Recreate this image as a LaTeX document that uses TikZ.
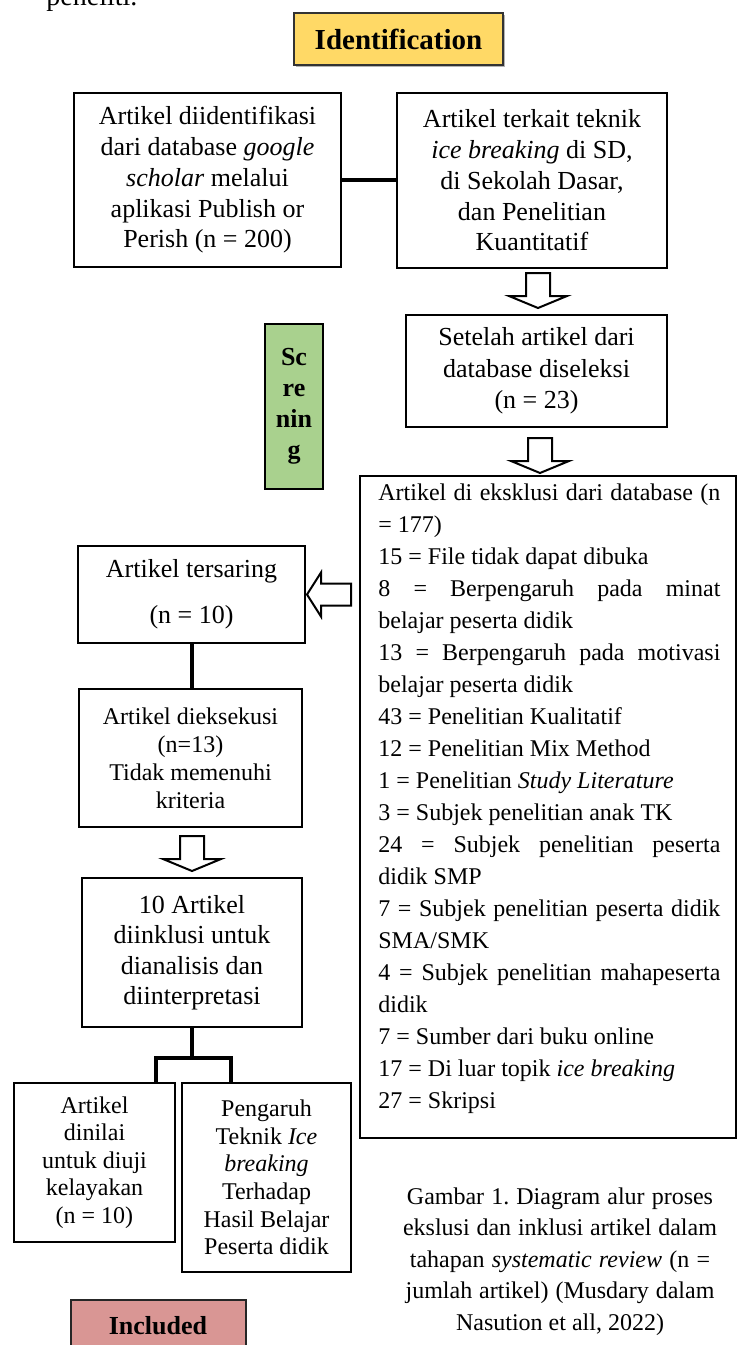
\documentclass[tikz,border=0pt]{standalone}
\usepackage{fontspec}
\setmainfont{Liberation Serif}
\usetikzlibrary{calc,shadows}
\frenchspacing

\definecolor{identyellow}{HTML}{FFD966}
\definecolor{screengreen}{HTML}{A9D18E}
\definecolor{includedred}{HTML}{D99694}

% word spaces of the font itself, not the ones of align=
\newcommand{\normalspaces}{\spaceskip 0pt\relax}
% a justified line of the exclusion list
\newcommand{\fullline}[1]{\makebox[171pt][s]{#1}}

\begin{document}
\begin{tikzpicture}[x=0.5pt, y=-0.5pt,
    every node/.append style={execute at begin node=\normalspaces},
    box/.style={draw, line width=1pt, align=center, inner sep=0pt},
    link/.style={line width=2pt},
    blockarrow/.style={draw, fill=white, line width=1pt, line join=miter},
    downarrow/.pic={\path[blockarrow] (-12,0) -- (12,0) -- (12,23) -- (29,23) -- (0,35) -- (-29,23) -- (-12,23) -- cycle;},
    leftarrow/.pic={\path[blockarrow] (0,-11) -- (0,11) -- (-30,11) -- (-30,22) -- (-44,0) -- (-30,-22) -- (-30,-11) -- cycle;}]

    % Page frame
    \useasboundingbox (0,0) rectangle (742,1345);
    \clip (0,0) rectangle (742,1345);

    % Text of the page above (cut off)
    \node[anchor=base west, inner sep=0pt, font=\fontsize{14}{16}\selectfont] (pagetext) at (46,5) {peneliti.};

    % Stage label: identification
    \node[draw=black!80, line width=0.6pt, fill=identyellow, minimum width=104.5pt, minimum height=26pt,
          font=\fontsize{14.5}{17}\selectfont\bfseries,
          drop shadow={shadow xshift=1pt, shadow yshift=-1pt, fill=black!50, opacity=0.6}] (ident) at (398.5,39) {Identification};

    % Identified articles
    \node[box, minimum width=133.5pt, minimum height=87pt, font=\fontsize{13}{15.4}\selectfont] (found) at (207.5,180)
        {Artikel diidentifikasi\\dari database \textit{google}\\\textit{scholar} melalui\\aplikasi Publish or\\Perish (n = 200)};
    \node[box, minimum width=135pt, minimum height=87.5pt, font=\fontsize{13}{15.4}\selectfont] (topic) at (532,180.5)
        {Artikel terkait teknik\\\textit{ice breaking} di SD,\\di Sekolah Dasar,\\dan Penelitian\\Kuantitatif};
    \draw[link] (found.east) -- (found.east -| topic.west);

    % Screening
    \pic at ($(topic.south)+(6,4)$) {downarrow};
    \node[box, minimum width=130.5pt, minimum height=56pt, font=\fontsize{13}{15.75}\selectfont] (selected) at (536.5,371)
        {Setelah artikel dari\\database diseleksi\\(n = 23)};
    \node[box, fill=screengreen, minimum width=29pt, minimum height=82.5pt, font=\fontsize{13}{15.5}\selectfont\bfseries] (screen) at (294,406.5)
        {Sc\\re\\nin\\g};
    \pic at ($(selected.south)+(3.5,10)$) {downarrow};

    % Excluded articles
    \node[box, minimum width=188pt, minimum height=331pt] (excluded) at (548,807) {};
    \node[anchor=base west, inner sep=0pt, text width=171pt, align=left, font=\fontsize{12}{16}\selectfont] (reasons) at (378,500)
        {\fullline{Artikel di eksklusi dari database (n}\\
         = 177)\\
         15 = File tidak dapat dibuka\\
         \fullline{8 = Berpengaruh pada minat}\\
         belajar peserta didik\\
         \fullline{13 = Berpengaruh pada motivasi}\\
         belajar peserta didik\\
         43 = Penelitian Kualitatif\\
         12 = Penelitian Mix Method\\
         1 = Penelitian \textit{Study Literature}\\
         3 = Subjek penelitian anak TK\\
         \fullline{24 = Subjek penelitian peserta}\\
         didik SMP\\
         \fullline{7 = Subjek penelitian peserta didik}\\
         SMA/SMK\\
         \fullline{4 = Subjek penelitian mahapeserta}\\
         didik\\
         7 = Sumber dari buku online\\
         17 = Di luar topik \textit{ice breaking}\\
         27 = Skripsi};

    % Filtered and executed articles
    \node[box, minimum width=113.5pt, minimum height=48.5pt, font=\fontsize{13}{16}\selectfont] (filtered) at (191.5,594.5)
        {Artikel tersaring\\[7pt](n = 10)};
    \pic at ($(excluded.west |- filtered.east)+(-8,0)$) {leftarrow};
    \node[box, minimum width=111.5pt, minimum height=69pt, font=\fontsize{12}{14}\selectfont] (executed) at (190.5,758)
        {Artikel dieksekusi\\(n=13)\\Tidak memenuhi\\kriteria};
    \draw[link] (filtered.south) -- (filtered.south |- executed.north);
    \pic at ($(executed.south)+(1.5,8)$) {downarrow};

    % Included articles
    \node[box, minimum width=110pt, minimum height=74.5pt, font=\fontsize{13}{15.25}\selectfont] (analysed) at (192,952.5)
        {10 Artikel\\diinklusi untuk\\dianalisis dan\\diinterpretasi};
    \node[box, minimum width=80.5pt, minimum height=79.5pt, font=\fontsize{12}{13.8}\selectfont] (rated) at (94.5,1162.5)
        {Artikel\\dinilai\\untuk diuji\\kelayakan\\(n = 10)};
    \node[box, minimum width=84.5pt, minimum height=94.5pt, font=\fontsize{12}{13.8}\selectfont] (effect) at (266.5,1177.5)
        {Pengaruh\\Teknik \textit{Ice}\\\textit{breaking}\\Terhadap\\Hasil Belajar\\Peserta didik};
    \coordinate (splitL) at (156,1058);
    \coordinate (splitR) at (231,1058);
    \draw[link] (analysed.south) |- (splitL) -- (splitL |- rated.north);
    \draw[link] (analysed.south) |- (splitR) -- (splitR |- effect.north);

    % Stage label: included
    \node[draw=black!85, line width=1pt, fill=includedred, minimum width=87.5pt, minimum height=26pt,
          font=\fontsize{13}{15}\selectfont\bfseries] (inclabel) at (158,1326) {Included};

    % Caption
    \node[anchor=base, text width=170pt, align=center, inner sep=0pt, font=\fontsize{12}{15.75}\selectfont] (caption) at (560,1204)
        {Gambar 1. Diagram alur proses\\ekslusi dan inklusi artikel dalam\\tahapan \textit{systematic review} (n =\\jumlah artikel) (Musdary dalam\\\mbox{Nasution et all, 2022)}};

\end{tikzpicture}
\end{document}
